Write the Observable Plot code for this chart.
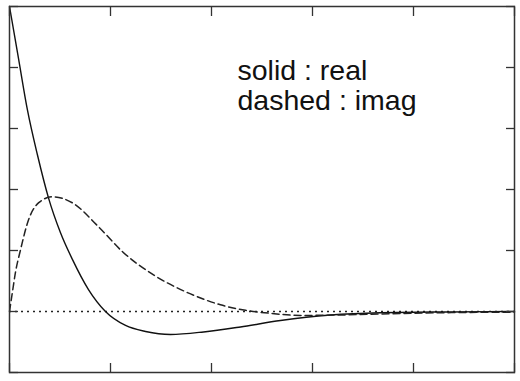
<!DOCTYPE html>
<html>
<head>
<meta charset="utf-8">
<script src="https://cdn.jsdelivr.net/npm/d3@7"></script>
<script src="https://cdn.jsdelivr.net/npm/@observablehq/plot@0.6"></script>
<style>
  html, body { margin: 0; padding: 0; background: #fff; }
  #chart { width: 520px; height: 381px; }
</style>
</head>
<body>
<div id="chart"></div>
<script>
// Real part (solid)
const realX = [0, 0.089, 0.178, 0.277, 0.386, 0.505, 0.624, 0.782, 0.95, 1.149, 1.347, 1.594, 1.921, 2.287, 2.683, 3.178, 3.673, 4.366, 5.0];
const realY = [5.0, 4.15, 3.30, 2.565, 1.863, 1.291, 0.85, 0.359, 0.0, -0.229, -0.327, -0.376, -0.335, -0.253, -0.147, -0.057, -0.02, -0.007, 0.0];
// Imaginary part (dashed)
const imagX = [0, 0.03, 0.059, 0.109, 0.188, 0.287, 0.426, 0.624, 0.881, 1.119, 1.426, 1.762, 2.089, 2.337, 2.584, 2.88, 3.28, 3.67, 4.10, 4.56, 5.0];
const imagY = [0, 0.33, 0.64, 1.01, 1.50, 1.78, 1.88, 1.78, 1.39, 0.98, 0.60, 0.31, 0.11, 0.02, -0.03, -0.065, -0.057, -0.04, -0.025, -0.015, -0.01];
const xTicks = [0, 1, 2, 3, 4, 5];
const yTicks = [-1, 0, 1, 2, 3, 4, 5];
const legendLines = ["solid : real", "dashed : imag"];
const legendY = [3.80, 3.31];

const real = realX.map((x, i) => ({x, y: realY[i]}));
const imag = imagX.map((x, i) => ({x, y: imagY[i]}));
const legend = legendLines.map((t, i) => ({t, y: legendY[i]}));

const plot = Plot.plot({
  width: 520,
  height: 381,
  marginLeft: 9,
  marginRight: 6,
  marginTop: 6,
  marginBottom: 9,
  x: {domain: [0, 5]},
  y: {domain: [-1, 5]},
  style: {background: "#fff", fontFamily: "Liberation Sans, Arial, sans-serif"},
  marks: [
    Plot.ruleY([0], {stroke: "#222", strokeWidth: 1.4, strokeDasharray: "2,4"}),
    Plot.line(real, {x: "x", y: "y", curve: "monotone-x", stroke: "#111", strokeWidth: 1.4}),
    Plot.line(imag, {x: "x", y: "y", curve: "monotone-x", stroke: "#222", strokeWidth: 1.5, strokeDasharray: "7,4"}),
    Plot.axisX(xTicks, {anchor: "bottom", tickSize: -9, tickFormat: () => "", label: null, stroke: "#333", strokeWidth: 1.3}),
    Plot.axisX(xTicks, {anchor: "top", tickSize: -9, tickFormat: () => "", label: null, stroke: "#333", strokeWidth: 1.3}),
    Plot.axisY(yTicks, {anchor: "left", tickSize: -9, tickFormat: () => "", label: null, stroke: "#333", strokeWidth: 1.3}),
    Plot.axisY(yTicks, {anchor: "right", tickSize: -9, tickFormat: () => "", label: null, stroke: "#333", strokeWidth: 1.3}),
    Plot.frame({stroke: "#333", strokeWidth: 1.5}),
    Plot.text(legend, {
      x: () => 2.257, y: "y", text: "t",
      textAnchor: "start", lineAnchor: "bottom",
      fontSize: 28.5, fill: "#111"
    })
  ]
});
document.getElementById("chart").appendChild(plot);
</script>
</body>
</html>
